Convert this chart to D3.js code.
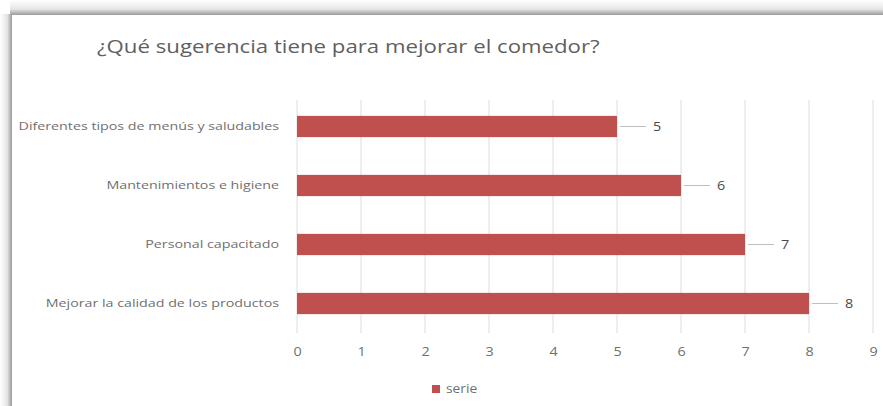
<!DOCTYPE html>
<html>
<head>
<meta charset="utf-8">
<script src="https://cdn.jsdelivr.net/npm/d3@7"></script>
<style>
  html, body { margin: 0; padding: 0; background: #fff; }
  svg { display: block; }
  text { font-family: "Open Sans", "Noto Sans", sans-serif; }
</style>
</head>
<body>
<svg id="chart" width="883" height="406"></svg>
<script>
// Survey answers (top to bottom) and their counts
const categories = [
  "Diferentes tipos de menús y saludables",
  "Mantenimientos e higiene",
  "Personal capacitado",
  "Mejorar la calidad de los productos"
];
const values = [5, 6, 7, 8];
const xTicks = [0, 1, 2, 3, 4, 5, 6, 7, 8, 9];
const seriesName = "serie";
const titleText = "¿Qué sugerencia tiene para mejorar el comedor?";

const W = 883, H = 406;
const svg = d3.select("#chart");
const defs = svg.append("defs");

// soft frame shadow along the top and left edges
const gTop = defs.append("linearGradient").attr("id", "shTop")
  .attr("x1", 0).attr("y1", 0).attr("x2", 0).attr("y2", 1);
gTop.append("stop").attr("offset", "0%").attr("stop-color", "#ffffff");
gTop.append("stop").attr("offset", "60%").attr("stop-color", "#e6e6e6");
gTop.append("stop").attr("offset", "100%").attr("stop-color", "#9a9a9a");
const gLeft = defs.append("linearGradient").attr("id", "shLeft")
  .attr("x1", 0).attr("y1", 0).attr("x2", 1).attr("y2", 0);
gLeft.append("stop").attr("offset", "0%").attr("stop-color", "#ffffff");
gLeft.append("stop").attr("offset", "60%").attr("stop-color", "#e4e4e4");
gLeft.append("stop").attr("offset", "100%").attr("stop-color", "#9a9a9a");

svg.append("rect").attr("width", W).attr("height", H).attr("fill", "#fff");
svg.append("rect").attr("x", 10).attr("y", 0).attr("width", W - 10).attr("height", 15)
  .attr("fill", "url(#shTop)");
svg.append("rect").attr("x", 0).attr("y", 14).attr("width", 12).attr("height", H - 14)
  .attr("fill", "url(#shLeft)");

// the chart's lettering is set wide; stretch glyphs horizontally
const stretch = 1.2;
const labelGray = "#6f6f6f";

// plot area
const m = { left: 297, right: 873, top: 97, bottom: 333 };
const x = d3.scaleLinear().domain([0, 9]).range([m.left, m.right]);
const y = d3.scaleBand().domain(categories).range([m.top, m.bottom])
  .paddingInner(0.64).paddingOuter(0.32);

// title
svg.append("g").attr("transform", "translate(97,53)")
  .append("text").attr("transform", "scale(1.17,1)")
  .attr("font-size", 19).attr("fill", "#5f5f5f")
  .text(titleText);

// vertical gridlines
svg.append("g").selectAll("line").data(xTicks).join("line")
  .attr("x1", d => x(d)).attr("x2", d => x(d))
  .attr("y1", m.top + 3).attr("y2", m.bottom)
  .attr("stroke", "#dcdcdc").attr("stroke-width", 1);

// x axis tick labels
const xAxis = d3.axisBottom(x).tickValues(xTicks).tickSize(0).tickPadding(0);
const gx = svg.append("g").attr("transform", `translate(0,${m.bottom + 14})`).call(xAxis);
gx.select(".domain").remove();
gx.selectAll("text").attr("font-size", 12).attr("fill", labelGray)
  .attr("font-family", "Open Sans, sans-serif")
  .attr("transform", `scale(${stretch},1)`);

// category labels
const yAxis = d3.axisLeft(y).tickSize(0).tickPadding(0);
const gy = svg.append("g").attr("transform", `translate(${m.left - 18},0)`).call(yAxis);
gy.select(".domain").remove();
gy.selectAll("text").attr("font-size", 11.5).attr("fill", labelGray)
  .attr("font-family", "Open Sans, sans-serif")
  .attr("transform", "scale(1.24,1)");

// bars
const data = categories.map((c, i) => ({ c, v: values[i] }));
svg.append("g").selectAll("rect").data(data).join("rect")
  .attr("x", x(0)).attr("y", d => y(d.c))
  .attr("width", d => x(d.v) - x(0)).attr("height", y.bandwidth())
  .attr("fill", "#C0504D");

// value labels with leader lines
const lbl = svg.append("g").selectAll("g").data(data).join("g");
lbl.append("line")
  .attr("x1", d => x(d.v) + 3).attr("x2", d => x(d.v) + 29)
  .attr("y1", d => y(d.c) + y.bandwidth() / 2).attr("y2", d => y(d.c) + y.bandwidth() / 2)
  .attr("stroke", "#bfbfbf").attr("stroke-width", 1);
lbl.append("g")
  .attr("transform", d => `translate(${x(d.v) + 40},${y(d.c) + y.bandwidth() / 2})`)
  .append("text")
  .attr("dy", "0.35em").attr("text-anchor", "middle")
  .attr("transform", `scale(${stretch},1)`)
  .attr("font-size", 12).attr("fill", "#4a4a4a")
  .text(d => d.v);

// legend
const lg = svg.append("g").attr("transform", "translate(432,385)");
lg.append("rect").attr("width", 8).attr("height", 8).attr("fill", "#C0504D");
lg.append("g").attr("transform", "translate(14,4)")
  .append("text").attr("dy", "0.35em").attr("transform", "scale(1.15,1)")
  .attr("font-size", 12).attr("fill", labelGray).text(seriesName);
</script>
</body>
</html>
